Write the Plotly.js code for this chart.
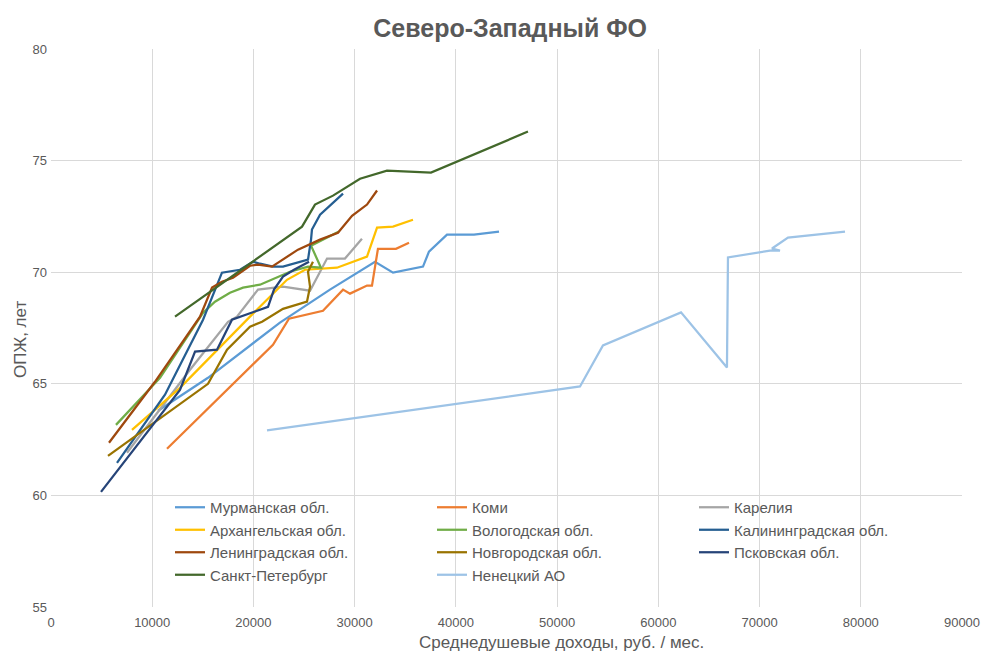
<!DOCTYPE html>
<html>
<head>
<meta charset="utf-8">
<script src="https://cdn.plot.ly/plotly-3.0.1.min.js"></script>
<style>
html,body{margin:0;padding:0;background:#fff;}
#chart{width:981px;height:651px;}
</style>
</head>
<body>
<div id="chart"></div>
<script>
// Region names (legend order)
const names = ["Мурманская обл.", "Коми", "Карелия", "Архангельская обл.", "Вологодская обл.",
  "Калининградская обл.", "Ленинградская обл.", "Новгородская обл.", "Псковская обл.",
  "Санкт-Петербург", "Ненецкий АО"];

// Average per-capita income, rub/month (x) and life expectancy, years (y)
const murmanskX = [10570, 15510, 22620, 27560, 32010, 33790, 36750, 37340, 39120, 41790, 44260];
const murmanskY = [63.79, 65.27, 67.74, 69.22, 70.47, 69.98, 70.25, 70.92, 71.68, 71.68, 71.82];

const komiX = [11460, 21930, 23510, 26870, 28850, 29540, 31220, 31710, 32300, 34080, 35370];
const komiY = [62.09, 66.75, 67.92, 68.27, 69.22, 69.04, 69.40, 69.40, 71.05, 71.05, 71.32];

const kareliaX = [7510, 13730, 17490, 18370, 20450, 22920, 25590, 27270, 29040, 30720];
const kareliaY = [61.91, 65.63, 67.78, 68.01, 69.22, 69.35, 69.17, 70.61, 70.61, 71.50];

const arkhX = [8000, 12740, 19660, 21340, 23310, 25090, 28250, 31220, 32210, 33790, 35760];
const arkhY = [62.94, 64.82, 68.01, 68.77, 69.66, 70.11, 70.20, 70.70, 72.00, 72.04, 72.35];

const vologdaX = [6420, 10770, 15020, 16200, 17680, 18970, 20650, 22330, 23610, 25390, 26670, 25690, 28450];
const vologdaY = [63.16, 65.27, 68.18, 68.68, 69.08, 69.31, 69.44, 69.75, 70.02, 70.25, 70.20, 71.19, 71.82];

const kaliningradX = [6520, 11260, 15020, 16200, 16890, 18670, 19960, 20650, 21930, 22920, 25390, 25690, 25780, 26580, 28850];
const kaliningradY = [61.46, 64.51, 67.87, 69.22, 69.98, 70.11, 70.47, 70.38, 70.25, 70.25, 70.56, 71.46, 71.91, 72.58, 73.52];

const leningradX = [5730, 10270, 14720, 15910, 16890, 17980, 19660, 20450, 21830, 24400, 26580, 28350, 29740, 31220, 32210];
const leningradY = [62.36, 65.09, 68.01, 69.31, 69.57, 69.75, 70.29, 70.34, 70.25, 71.01, 71.46, 71.77, 72.53, 73.03, 73.66];

const novgorodX = [5630, 15510, 17390, 19660, 20850, 22920, 25290, 25590, 25390, 25880];
const novgorodY = [61.77, 65.00, 66.53, 67.56, 67.78, 68.36, 68.68, 69.35, 70.02, 70.47];

const pskovX = [4940, 12740, 14230, 16400, 17880, 19860, 21440, 22030, 22920, 24010, 25490];
const pskovY = [60.16, 64.73, 66.44, 66.53, 67.87, 68.18, 68.45, 69.22, 69.80, 70.11, 70.47];

const spbX = [12250, 19960, 24800, 26080, 27860, 30530, 33190, 37540, 40110, 42580, 47120];
const spbY = [68.01, 70.47, 72.04, 73.03, 73.43, 74.19, 74.55, 74.46, 74.96, 75.45, 76.30];

const nenetsX = [21340, 52260, 54530, 62240, 66780, 66880, 71030, 72020, 71230, 72810, 78440];
const nenetsY = [62.91, 64.88, 66.72, 68.20, 65.73, 70.66, 70.97, 70.97, 71.06, 71.55, 71.82];

const xTicks = [0, 10000, 20000, 30000, 40000, 50000, 60000, 70000, 80000, 90000];
const yTicks = [55, 60, 65, 70, 75, 80];

const seriesX = [murmanskX, komiX, kareliaX, arkhX, vologdaX, kaliningradX, leningradX, novgorodX, pskovX, spbX, nenetsX];
const seriesY = [murmanskY, komiY, kareliaY, arkhY, vologdaY, kaliningradY, leningradY, novgorodY, pskovY, spbY, nenetsY];
const colors = ["#5B9BD5", "#ED7D31", "#A5A5A5", "#FFC000", "#70AD47", "#255E91",
  "#9E480E", "#997300", "#264478", "#43682B", "#9DC3E6"];

const FONT = "Liberation Sans, Arial, sans-serif";
const GREY = "#595959";

const traces = names.map((n, i) => ({
  type: "scatter",
  mode: "lines",
  name: n,
  x: seriesX[i],
  y: seriesY[i],
  line: {color: colors[i], width: 2.25},
  hoverinfo: "x+y+name"
}));

const layout = {
  width: 981,
  height: 651,
  margin: {l: 51, r: 19, t: 49, b: 44},
  paper_bgcolor: "#ffffff",
  plot_bgcolor: "#ffffff",
  font: {family: FONT, color: GREY, size: 13},
  title: {
    text: "<b>Северо-Западный ФО</b>",
    font: {family: FONT, size: 25, color: GREY},
    x: 0.52, xanchor: "center",
    y: 1 - 28 / 651, yanchor: "middle", yref: "container"
  },
  xaxis: {
    range: [0, 90000],
    tickvals: xTicks,
    ticktext: xTicks.map(String),
    showgrid: true,
    gridcolor: "#D9D9D9",
    gridwidth: 1,
    zeroline: false,
    showline: false,
    ticks: "",
    ticklabelstandoff: 6,
    tickfont: {size: 13, color: GREY, family: FONT},
    automargin: false,
    fixedrange: true
  },
  yaxis: {
    range: [55, 80],
    tickvals: yTicks,
    ticktext: yTicks.map(String),
    showgrid: true,
    gridcolor: "#D9D9D9",
    gridwidth: 1,
    zeroline: false,
    showline: false,
    ticks: "",
    ticklabelstandoff: 3,
    tickfont: {size: 13, color: GREY, family: FONT},
    automargin: false,
    fixedrange: true
  },
  showlegend: true,
  legend: {
    orientation: "h",
    x: (170 - 51) / 911,
    xanchor: "left",
    y: 1 - (491 - 49) / 558,
    yanchor: "top",
    bgcolor: "rgba(0,0,0,0)",
    borderwidth: 0,
    entrywidth: 217,
    entrywidthmode: "pixels",
    font: {size: 15, color: GREY, family: FONT},
    traceorder: "normal"
  },
  annotations: [
    {
      text: "Среднедушевые доходы, руб. / мес.",
      xref: "paper", yref: "paper",
      x: (561 - 51) / 911, y: -(642 - 607) / 558,
      xanchor: "center", yanchor: "middle",
      showarrow: false,
      font: {size: 17, color: GREY, family: FONT}
    },
    {
      text: "ОПЖ, лет",
      xref: "paper", yref: "paper",
      x: -(51 - 20) / 911, y: 1 - (340 - 49) / 558,
      xanchor: "center", yanchor: "middle",
      textangle: -90,
      showarrow: false,
      font: {size: 17, color: GREY, family: FONT}
    }
  ]
};

Plotly.newPlot("chart", traces, layout, {displayModeBar: false});
</script>
</body>
</html>
